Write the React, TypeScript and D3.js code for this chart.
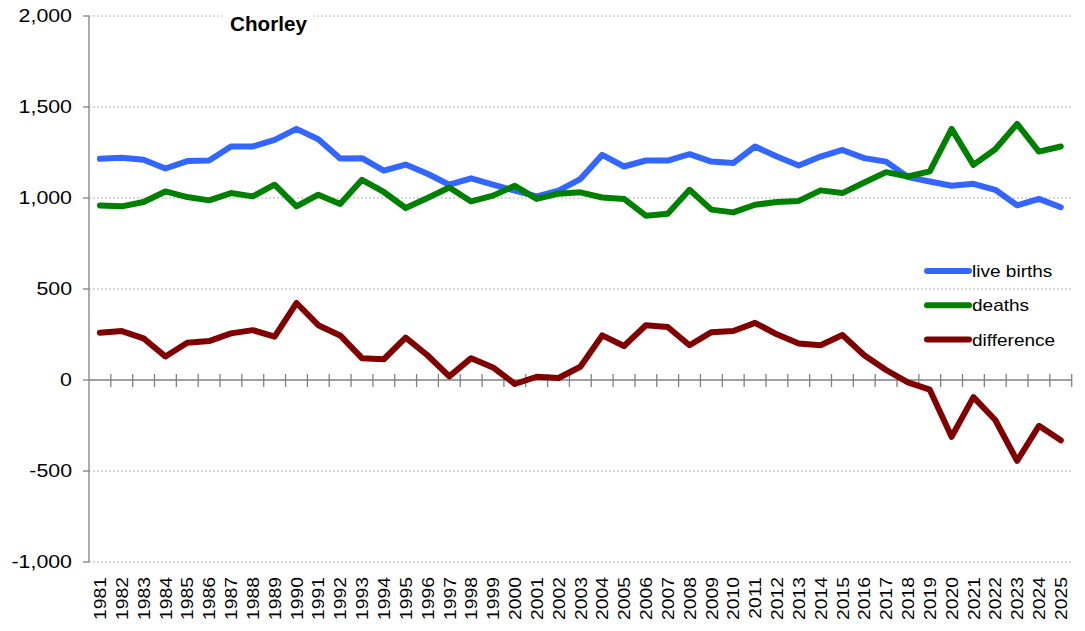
import React, { useEffect, useRef } from 'react';
import * as d3 from 'd3';

const years = [
  '1981', '1982', '1983', '1984', '1985', '1986', '1987', '1988', '1989', '1990',
  '1991', '1992', '1993', '1994', '1995', '1996', '1997', '1998', '1999', '2000',
  '2001', '2002', '2003', '2004', '2005', '2006', '2007', '2008', '2009', '2010',
  '2011', '2012', '2013', '2014', '2015', '2016', '2017', '2018', '2019', '2020',
  '2021', '2022', '2023', '2024', '2025',
];

const liveBirths = [
  1215, 1221, 1210, 1162, 1203, 1206, 1283, 1283, 1319, 1380,
  1323, 1217, 1219, 1150, 1184, 1133, 1073, 1108, 1073, 1040,
  1009, 1040, 1104, 1237, 1173, 1206, 1206, 1241, 1200, 1192,
  1283, 1228, 1179, 1228, 1264, 1219, 1200, 1115, 1091, 1067,
  1078, 1045, 960, 995, 949,
];

const deaths = [
  959, 954, 978, 1036, 1005, 987, 1027, 1009, 1073, 954,
  1018, 967, 1100, 1033, 945, 1000, 1058, 981, 1013, 1067,
  995, 1024, 1031, 1003, 995, 903, 914, 1045, 936, 921,
  963, 978, 984, 1042, 1027, 1085, 1142, 1118, 1146, 1380,
  1182, 1268, 1407, 1255, 1283,
];

const difference = [
  260, 269, 229, 129, 205, 214, 256, 274, 238, 423,
  301, 245, 120, 114, 233, 136, 20, 120, 69, -22,
  18, 11, 73, 245, 187, 301, 291, 191, 263, 269,
  314, 251, 200, 191, 247, 136, 55, -13, -53, -312,
  -94, -220, -444, -252, -331,
];

const yTicks = [-1000, -500, 0, 500, 1000, 1500, 2000];

const series = [
  { name: 'live births', values: liveBirths, color: '#3366ff' },
  { name: 'deaths', values: deaths, color: '#008000' },
  { name: 'difference', values: difference, color: '#800000' },
];

const App: React.FC = () => {
  const svgRef = useRef<SVGSVGElement | null>(null);

  useEffect(() => {
    if (!svgRef.current) return;
    const width = 1085;
    const height = 631;
    const left = 89;
    const right = 1071.7;
    const top = 16;
    const bottom = 562;
    const font = '"Liberation Sans", Arial, sans-serif';

    const svg = d3.select(svgRef.current)
      .attr('width', width)
      .attr('height', height)
      .style('position', 'absolute')
      .style('left', '0px')
      .style('top', '0px');
    svg.selectAll('*').remove();

    const x = d3.scaleBand<string>().domain(years).range([left, right]);
    const y = d3.scaleLinear().domain([-1000, 2000]).range([bottom, top]);
    const cx = (i: number) => (x(years[i]) as number) + x.bandwidth() / 2;
    const fmt = (v: number) => d3.format(',')(v).replace('\u2212', '-');

    // gridlines
    svg.append('g')
      .selectAll('line')
      .data(yTicks.filter(t => t !== 0))
      .join('line')
      .attr('x1', left).attr('x2', right)
      .attr('y1', d => y(d)).attr('y2', d => y(d))
      .attr('stroke', '#b4b4b4')
      .attr('stroke-width', 1)
      .attr('stroke-dasharray', '2,2');

    // y axis
    const axisColor = '#808080';
    svg.append('line')
      .attr('x1', left).attr('x2', left)
      .attr('y1', top).attr('y2', bottom)
      .attr('stroke', axisColor).attr('stroke-width', 1.3);
    svg.append('g')
      .selectAll('line')
      .data(yTicks)
      .join('line')
      .attr('x1', left - 6).attr('x2', left)
      .attr('y1', d => y(d)).attr('y2', d => y(d))
      .attr('stroke', axisColor).attr('stroke-width', 1.3);
    svg.append('g')
      .selectAll('text')
      .data(yTicks)
      .join('text')
      .attr('transform', d => `translate(72,${y(d)}) scale(1.22,1)`)
      .attr('dy', '0.36em')
      .attr('text-anchor', 'end')
      .style('font-family', font)
      .style('font-size', '17.5px')
      .text(d => fmt(d));

    // x axis at zero, ticks between categories
    svg.append('line')
      .attr('x1', left).attr('x2', right)
      .attr('y1', y(0)).attr('y2', y(0))
      .attr('stroke', axisColor).attr('stroke-width', 1.3);
    svg.append('g')
      .selectAll('line')
      .data(d3.range(1, years.length + 1))
      .join('line')
      .attr('x1', i => left + i * x.step()).attr('x2', i => left + i * x.step())
      .attr('y1', y(0) - 6).attr('y2', y(0) + 7)
      .attr('stroke', axisColor).attr('stroke-width', 1.3);
    svg.append('g')
      .selectAll('text')
      .data(years)
      .join('text')
      .attr('transform', (d, i) => `translate(${cx(i) + 6.2},577) rotate(-90) scale(1.14,1)`)
      .attr('text-anchor', 'end')
      .style('font-family', font)
      .style('font-size', '17px')
      .text(d => d);

    // lines
    const line = d3.line<number>()
      .x((d, i) => cx(i))
      .y(d => y(d));
    svg.append('g')
      .selectAll('path')
      .data(series)
      .join('path')
      .attr('d', d => line(d.values))
      .attr('fill', 'none')
      .attr('stroke', d => d.color)
      .attr('stroke-width', 6)
      .attr('stroke-linejoin', 'round')
      .attr('stroke-linecap', 'round');

    // title
    svg.append('rect')
      .attr('x', 222).attr('y', 10).attr('width', 92).attr('height', 14)
      .attr('fill', '#fff');
    svg.append('text')
      .attr('transform', 'translate(268.5,31) scale(1.06,1)')
      .attr('text-anchor', 'middle')
      .style('font-family', font)
      .style('font-size', '19.5px')
      .style('font-weight', 'bold')
      .text('Chorley');

    // legend
    const legend = svg.append('g')
      .selectAll('g')
      .data(series)
      .join('g')
      .attr('transform', (d, i) => `translate(927,${271 + i * 34.3})`);
    legend.append('line')
      .attr('x1', 0).attr('x2', 42)
      .attr('stroke', d => d.color)
      .attr('stroke-width', 6)
      .attr('stroke-linecap', 'round');
    legend.append('text')
      .attr('transform', 'translate(45,0) scale(1.12,1)')
      .attr('dy', '0.36em')
      .style('font-family', font)
      .style('font-size', '17px')
      .text(d => d.name);
  }, []);

  return (
    <div>
      <svg ref={svgRef}></svg>
    </div>
  );
};

export default App;
